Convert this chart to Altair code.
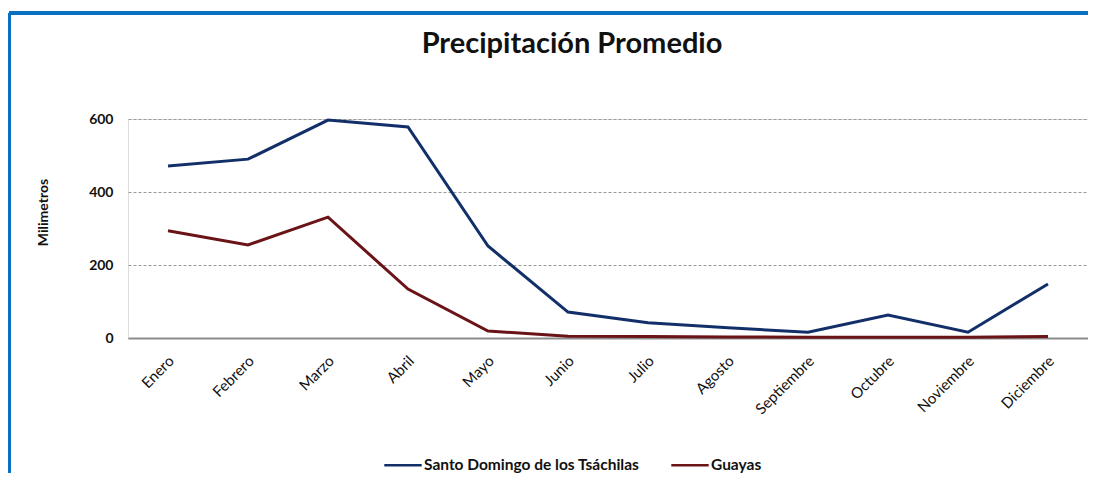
import altair as alt
import pandas as pd

months = ["Enero", "Febrero", "Marzo", "Abril", "Mayo", "Junio", "Julio",
          "Agosto", "Septiembre", "Octubre", "Noviembre", "Diciembre"]
santo_domingo = [471, 490, 597, 578, 252, 71, 42, 28, 16, 63, 16, 148]
guayas = [294, 255, 331, 134, 19, 5, 4, 3, 2, 2, 2, 4]
series_names = ["Santo Domingo de los Tsáchilas", "Guayas"]
series_colors = ["#132f69", "#6a1418"]

rows = []
for m, a, b in zip(months, santo_domingo, guayas):
    rows.append({"mes": m, "serie": series_names[0], "valor": a})
    rows.append({"mes": m, "serie": series_names[1], "valor": b})
df = pd.DataFrame(rows)

FONT = "Lato"

lines = alt.Chart(df).mark_line(strokeWidth=3, clip=False).encode(
    x=alt.X("mes:N", sort=months, title=None,
            scale=alt.Scale(type="point", padding=0.5),
            axis=alt.Axis(labelAngle=-45, labelAlign="right", labelBaseline="middle",
                          labelPadding=20, labelOffset=3, ticks=False, grid=False,
                          domain=True, domainColor="#8c8c8c", domainWidth=2,
                          labelFont=FONT, labelFontSize=15, labelColor="#111",
                          labelFontWeight="normal")),
    y=alt.Y("valor:Q", title="Milimetros",
            scale=alt.Scale(domain=[0, 600], nice=False),
            axis=alt.Axis(values=[0, 200, 400, 600], ticks=False, domain=False,
                          grid=True, gridDash=[3, 2], gridColor="#9a9a9a", gridWidth=1,
                          labelFont=FONT, labelFontSize=14, labelFontWeight="bold",
                          labelColor="#111", labelPadding=15,
                          titleFont=FONT, titleFontSize=14, titleFontWeight="bold",
                          titleColor="#111", titleAngle=-90, titleAlign="center",
                          titleBaseline="middle", titleX=-85, titleY=93)),
    color=alt.Color("serie:N", sort=series_names,
                    scale=alt.Scale(domain=series_names, range=series_colors),
                    legend=alt.Legend(title=None, orient="none", direction="horizontal",
                                      legendX=255, legendY=326,
                                      symbolType="stroke", symbolSize=1400,
                                      symbolStrokeWidth=2.5, labelOffset=1,
                                      columnPadding=26, labelLimit=0,
                                      labelFont=FONT, labelFontSize=15.5,
                                      labelFontWeight="bold", labelColor="#111")),
)

border_top = alt.Chart(df).mark_rule(color="#0a70c0", strokeWidth=2.5, clip=False).encode(
    x=alt.value(-119), x2=alt.value(1000), y=alt.value(-106))
border_left = alt.Chart(df).mark_rule(color="#0a70c0", strokeWidth=2, clip=False).encode(
    x=alt.value(-118.5), y=alt.value(-106), y2=alt.value(400))

chart = alt.layer(lines, border_top, border_left).properties(
    width=960, height=219,
    autosize=alt.AutoSizeParams(type="none"),
    padding={"left": 120, "top": 111, "right": 0, "bottom": 135},
    title=alt.TitleParams("Precipitación Promedio", font=FONT, fontSize=29,
                          fontWeight="bold", color="#111", anchor="middle",
                          dx=-36, offset=-61, baseline="middle"),
).configure_view(stroke=None).configure(background="white")

chart.save("out.html", embed_options={"renderer": "svg", "actions": False})
